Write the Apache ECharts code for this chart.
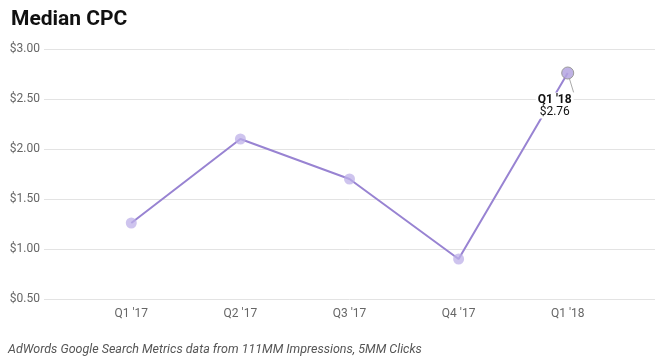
<!DOCTYPE html>
<html>
<head>
<meta charset="utf-8">
<style>
html,body{margin:0;padding:0;background:#fff;}
#c{width:667px;height:360px;}
</style>
<script src="https://cdn.jsdelivr.net/npm/echarts@6/dist/echarts.min.js"></script>
</head>
<body>
<div id="c"></div>
<script>
const categories = ["Q1 '17", "Q2 '17", "Q3 '17", "Q4 '17", "Q1 '18"];
const cpcValues = [1.26, 2.10, 1.70, 0.90, 2.76];
const yTicks = [0.5, 1.0, 1.5, 2.0, 2.5, 3.0];
const titleText = 'Median CPC';
const footerText = 'AdWords Google Search Metrics data from 111MM Impressions, 5MM Clicks';
const highlightIndex = 4;

const chart = echarts.init(document.getElementById('c'), null, {renderer: 'canvas'});
const seriesData = cpcValues.map((v, i) => {
  const d = {value: [i, v]};
  if (i === highlightIndex) {
    d.symbolSize = 12;
    d.itemStyle = {color: 'rgba(180,165,225,0.85)', borderColor: '#9a9a9a', borderWidth: 1};
    d.label = {
      show: true,
      position: 'bottom',
      distance: 13,
      offset: [-13, 0],
      backgroundColor: '#fff',
      padding: [1, 2, 0, 2],
      formatter: () => '{a|' + categories[i] + '}\n{b|$' + v.toFixed(2) + '}',
      rich: {
        a: {fontFamily: 'Roboto', fontWeight: 'bold', fontSize: 12, color: '#111', lineHeight: 12, align: 'center'},
        b: {fontFamily: 'Roboto', fontSize: 12, color: '#111', lineHeight: 13, align: 'center'}
      }
    };
  }
  return d;
});

chart.setOption({
  animation: false,
  backgroundColor: '#fff',
  title: {
    text: titleText,
    left: 6, top: 4,
    textStyle: {fontFamily: 'Roboto', fontWeight: 'bold', fontSize: 21, color: '#111'}
  },
  graphic: [{
    type: 'text', left: 8, top: 343,
    style: {text: footerText, font: 'italic 12.5px Roboto', fill: '#555'}
  }],
  grid: {left: 44, right: 12, top: 49, bottom: 61, containLabel: false},
  xAxis: {
    type: 'value', min: -0.8, max: 4.8,
    axisLine: {show: false}, axisTick: {show: false}, splitLine: {show: false},
    axisLabel: {
      customValues: categories.map((c, i) => i),
      formatter: v => categories[Math.round(v)] || '',
      color: '#666', fontFamily: 'Roboto', fontSize: 12, margin: 9
    }
  },
  yAxis: {
    type: 'value', min: yTicks[0], max: yTicks[yTicks.length - 1], interval: 0.5,
    axisLine: {show: false}, axisTick: {show: false},
    splitLine: {lineStyle: {color: '#e3e3e3', width: 1}},
    axisLabel: {
      formatter: v => '$' + v.toFixed(2),
      color: '#666', fontFamily: 'Roboto', fontSize: 12, margin: 4
    }
  },
  series: [{
    type: 'line',
    data: seriesData,
    symbol: 'circle',
    symbolSize: 11,
    lineStyle: {color: '#9883d2', width: 2},
    itemStyle: {color: 'rgba(190,176,232,0.75)'},
    labelLine: {show: true, lineStyle: {color: '#aaa', width: 1}},
    z: 3
  }]
});
</script>
</body>
</html>
